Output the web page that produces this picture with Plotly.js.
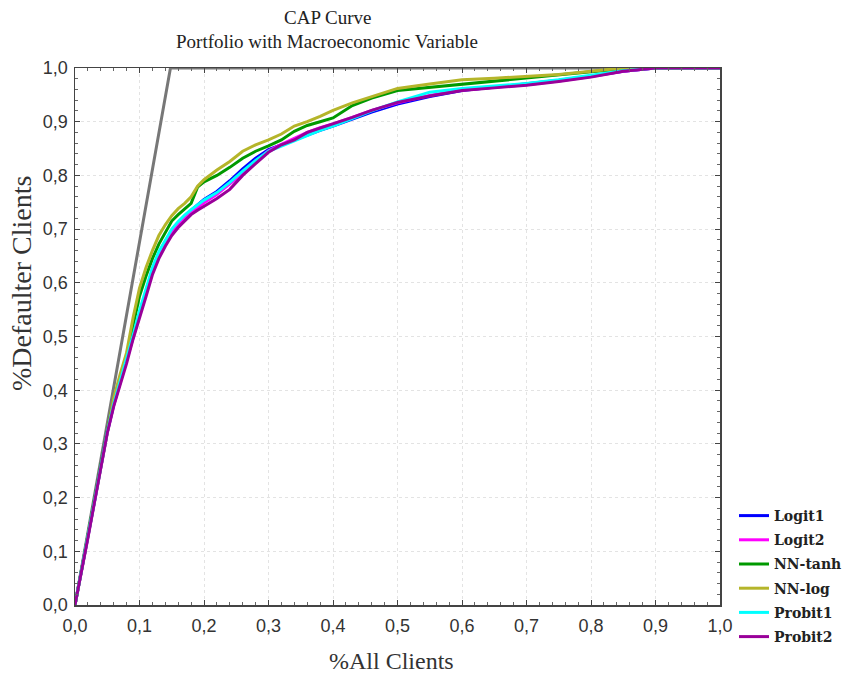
<!DOCTYPE html>
<html>
<head>
<meta charset="utf-8">
<script src="https://cdn.plot.ly/plotly-3.0.1.min.js"></script>
<style>html,body{margin:0;padding:0;background:#fff;}#chart{width:848px;height:676px;}</style>
</head>
<body>
<div id="chart"></div>
<script>
var xGrid = [0, 0.01, 0.02, 0.03, 0.04, 0.05, 0.06, 0.07, 0.08, 0.09, 0.10, 0.11, 0.12, 0.13, 0.14, 0.15, 0.16, 0.17, 0.18, 0.19, 0.20, 0.22, 0.24, 0.26, 0.28, 0.30, 0.32, 0.34, 0.36, 0.38, 0.40, 0.43, 0.46, 0.50, 0.55, 0.60, 0.65, 0.70, 0.75, 0.80, 0.85, 0.90, 0.95, 1.0];

var logit1 = [0, 0.062, 0.127, 0.192, 0.257, 0.322, 0.373, 0.415, 0.456, 0.5, 0.545, 0.585, 0.625, 0.655, 0.678, 0.698, 0.712, 0.724, 0.735, 0.745, 0.755, 0.77, 0.79, 0.812, 0.832, 0.848, 0.857, 0.866, 0.876, 0.884, 0.892, 0.905, 0.918, 0.933, 0.947, 0.958, 0.964, 0.97, 0.977, 0.985, 0.994, 1.0, 1.0, 1.0];
var logit2 = [0, 0.061, 0.126, 0.191, 0.256, 0.321, 0.372, 0.413, 0.453, 0.497, 0.54, 0.578, 0.62, 0.65, 0.673, 0.693, 0.708, 0.72, 0.731, 0.74, 0.749, 0.765, 0.784, 0.804, 0.826, 0.846, 0.858, 0.869, 0.88, 0.889, 0.896, 0.908, 0.921, 0.935, 0.949, 0.959, 0.964, 0.969, 0.976, 0.984, 0.994, 1.0, 1.0, 1.0];
var nnTanh = [0, 0.064, 0.129, 0.194, 0.259, 0.324, 0.38, 0.425, 0.465, 0.52, 0.575, 0.612, 0.645, 0.672, 0.695, 0.715, 0.727, 0.737, 0.748, 0.778, 0.788, 0.8, 0.815, 0.832, 0.845, 0.855, 0.866, 0.882, 0.893, 0.9, 0.907, 0.93, 0.944, 0.958, 0.964, 0.97, 0.976, 0.981, 0.987, 0.993, 0.998, 1.0, 1.0, 1.0];
var nnLog = [0, 0.065, 0.13, 0.195, 0.26, 0.326, 0.385, 0.43, 0.47, 0.535, 0.59, 0.628, 0.66, 0.688, 0.708, 0.725, 0.738, 0.748, 0.76, 0.78, 0.792, 0.81, 0.826, 0.845, 0.857, 0.866, 0.877, 0.892, 0.9, 0.91, 0.921, 0.935, 0.947, 0.962, 0.97, 0.978, 0.981, 0.984, 0.988, 0.994, 1.0, 1.0, 1.0, 1.0];
var probit1 = [0, 0.062, 0.127, 0.192, 0.257, 0.322, 0.374, 0.416, 0.457, 0.502, 0.548, 0.588, 0.628, 0.658, 0.68, 0.7, 0.714, 0.726, 0.736, 0.745, 0.754, 0.768, 0.787, 0.808, 0.828, 0.845, 0.855, 0.864, 0.875, 0.884, 0.892, 0.906, 0.92, 0.937, 0.955, 0.962, 0.966, 0.971, 0.978, 0.986, 0.995, 1.0, 1.0, 1.0];
var probit2 = [0, 0.06, 0.125, 0.19, 0.255, 0.32, 0.37, 0.41, 0.45, 0.495, 0.537, 0.574, 0.615, 0.645, 0.668, 0.688, 0.703, 0.716, 0.727, 0.735, 0.742, 0.757, 0.774, 0.8, 0.822, 0.843, 0.857, 0.866, 0.88, 0.888, 0.895, 0.908, 0.921, 0.936, 0.948, 0.958, 0.963, 0.968, 0.975, 0.983, 0.994, 1.0, 1.0, 1.0];

var perfectX = [0, 0.148, 1.0];
var perfectY = [0, 1.0, 1.0];

var seriesNames = ['Logit1', 'Logit2', 'NN-tanh', 'NN-log', 'Probit1', 'Probit2'];
var seriesValues = [logit1, logit2, nnTanh, nnLog, probit1, probit2];
var seriesColors = ['#0000ff', '#ff00ff', '#009900', '#b5b52a', '#00ffff', '#990099'];

var xTickVals = [0, 0.1, 0.2, 0.3, 0.4, 0.5, 0.6, 0.7, 0.8, 0.9, 1.0];
var xTickText = ['0,0', '0,1', '0,2', '0,3', '0,4', '0,5', '0,6', '0,7', '0,8', '0,9', '1,0'];

var traces = [{
  x: perfectX, y: perfectY, mode: 'lines', showlegend: false,
  line: {color: '#777777', width: 3}, hoverinfo: 'skip'
}];
for (var i = 0; i < seriesNames.length; i++) {
  traces.push({
    x: xGrid, y: seriesValues[i], name: seriesNames[i], mode: 'lines',
    legendgroup: 'g' + i,
    line: {color: seriesColors[i], width: 3}
  });
}

var axisCommon = {
  range: [0, 1], tickmode: 'array', tickvals: xTickVals, ticktext: xTickText,
  showgrid: true, gridcolor: '#e3e3e3', griddash: 'dot', gridwidth: 1,
  zeroline: false, showline: true, linecolor: '#444', linewidth: 1.5, mirror: 'ticks',
  ticks: 'inside', ticklen: 5, tickcolor: '#444',
  minor: {ticks: 'inside', tickmode: 'linear', tick0: 0, dtick: 0.02, ticklen: 3, tickcolor: '#666', showgrid: false},
  tickfont: {family: 'Liberation Sans, Arial, sans-serif', size: 18, color: '#333'},
  fixedrange: true
};

var layout = {
  width: 848, height: 676,
  margin: {l: 75, r: 128, t: 68, b: 71},
  paper_bgcolor: '#fff', plot_bgcolor: '#fff',
  xaxis: Object.assign({}, axisCommon, {ticklabelstandoff: 4}),
  yaxis: Object.assign({}, axisCommon, {ticklabelstandoff: 2}),
  legend: {
    xref: 'container', yref: 'container',
    x: 734 / 848, y: 23 / 676, xanchor: 'left', yanchor: 'bottom',
    font: {family: 'DejaVu Serif, serif', size: 14, color: '#222', weight: 'bold'},
    bgcolor: 'rgba(0,0,0,0)', itemwidth: 30, tracegroupgap: 3
  },
  annotations: [
    {text: 'CAP Curve', xref: 'paper', yref: 'paper', x: (327 - 75) / 645, y: (605 - 17) / 537, showarrow: false,
     font: {family: 'Liberation Serif, serif', size: 19, color: '#222'}, xanchor: 'center', yanchor: 'middle'},
    {text: 'Portfolio with Macroeconomic Variable', xref: 'paper', yref: 'paper', x: (327 - 75) / 645, y: (605 - 42) / 537, showarrow: false,
     font: {family: 'Liberation Serif, serif', size: 19, color: '#222'}, xanchor: 'center', yanchor: 'middle'},
    {text: '%All Clients', xref: 'paper', yref: 'paper', x: (391 - 75) / 645, y: (605 - 661) / 537, showarrow: false,
     font: {family: 'Liberation Serif, serif', size: 24, color: '#333'}, xanchor: 'center', yanchor: 'middle'},
    {text: '%Defaulter Clients', xref: 'paper', yref: 'paper', x: (21 - 75) / 645, y: (605 - 284) / 537, showarrow: false,
     textangle: -90,
     font: {family: 'Liberation Serif, serif', size: 28, color: '#333'}, xanchor: 'center', yanchor: 'middle'}
  ]
};

Plotly.newPlot('chart', traces, layout, {displayModeBar: false, staticPlot: true});
</script>
</body>
</html>
